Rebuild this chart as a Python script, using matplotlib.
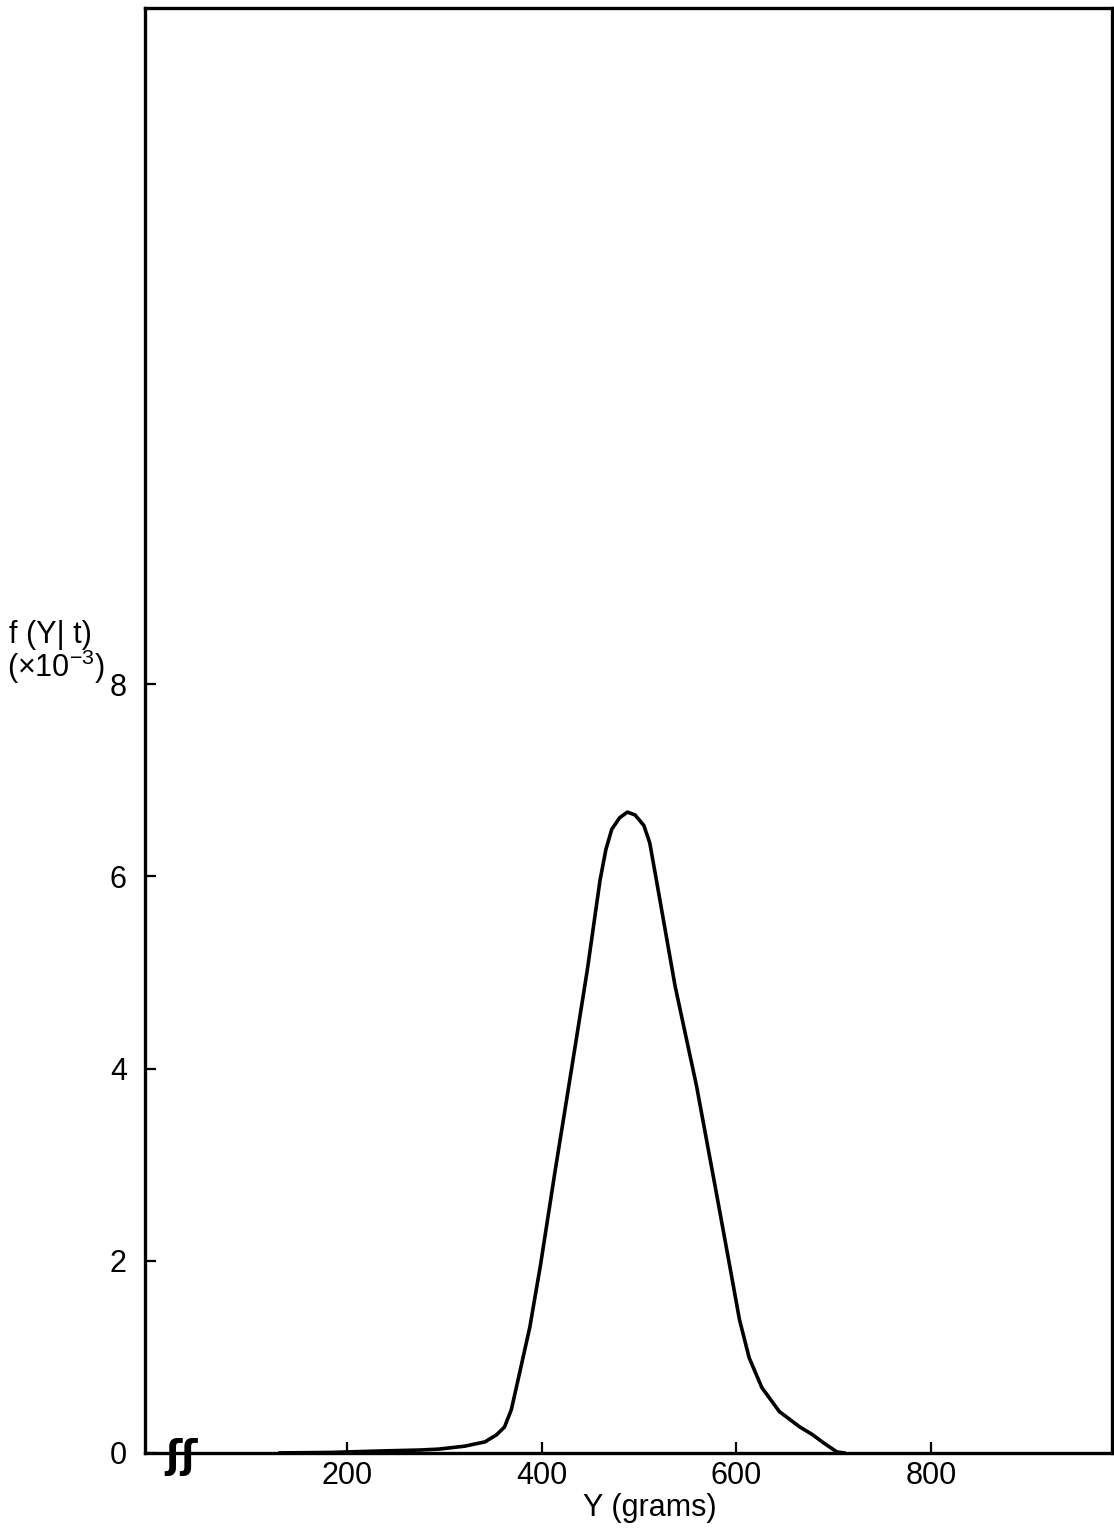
import matplotlib.pyplot as plt
import numpy as np

plt.rcParams['font.family'] = ['Liberation Sans', 'DejaVu Sans']
plt.rcParams['mathtext.default'] = 'regular'

# density curve (Y in grams, f x 10^3)
y_grams = [131, 183, 234, 275, 295, 321, 342, 354, 362, 369, 377, 388, 399,
           414, 431, 447, 460, 466, 472, 480, 488, 496, 505, 511, 517, 537,
           559, 578, 593, 603, 613, 626, 644, 665, 678, 690, 703, 711]
f_vals = [0.0, 0.005, 0.02, 0.03, 0.04, 0.07, 0.115, 0.19, 0.27, 0.45, 0.81,
          1.31, 1.96, 2.94, 4.01, 5.03, 5.96, 6.28, 6.49, 6.61, 6.67, 6.64,
          6.53, 6.35, 6.01, 4.86, 3.82, 2.78, 1.95, 1.39, 0.99, 0.68, 0.43,
          0.27, 0.19, 0.10, 0.01, 0.0]

x_ticks = [200, 400, 600, 800]
y_ticks = [0, 2, 4, 6, 8]

fig = plt.figure(figsize=(11.14, 15.31), dpi=100)
ax = fig.add_axes([0.130, 0.051, 0.868, 0.9438])

ax.plot(y_grams, f_vals, color='black', lw=2.6, solid_capstyle='round')

ax.set_xlim(-7, 985)
ax.set_ylim(0, 15.04)
ax.set_xticks(x_ticks)
ax.set_yticks(y_ticks)
ax.tick_params(direction='in', length=8, width=1.6, labelsize=22)
ax.tick_params(axis='x', pad=6)
ax.tick_params(axis='y', pad=13)
for s in ax.spines.values():
    s.set_linewidth(2.4)

# axis break marks on the baseline
ax.text(31, -0.04, 'ʃʃ', fontsize=28, ha='center', va='center',
        color='black', family='DejaVu Sans', fontweight='bold', clip_on=False)

ax.set_xlabel('Y (grams)', fontsize=22)
ax.xaxis.set_label_coords(0.522, -0.028)

fig.text(0.008, 0.585, 'f (Y| t)', fontsize=22, ha='left', va='center')
fig.text(0.006, 0.5645, r'(×10$^{-3}$)', fontsize=22, ha='left', va='center')

plt.savefig('out.png', dpi=100)
